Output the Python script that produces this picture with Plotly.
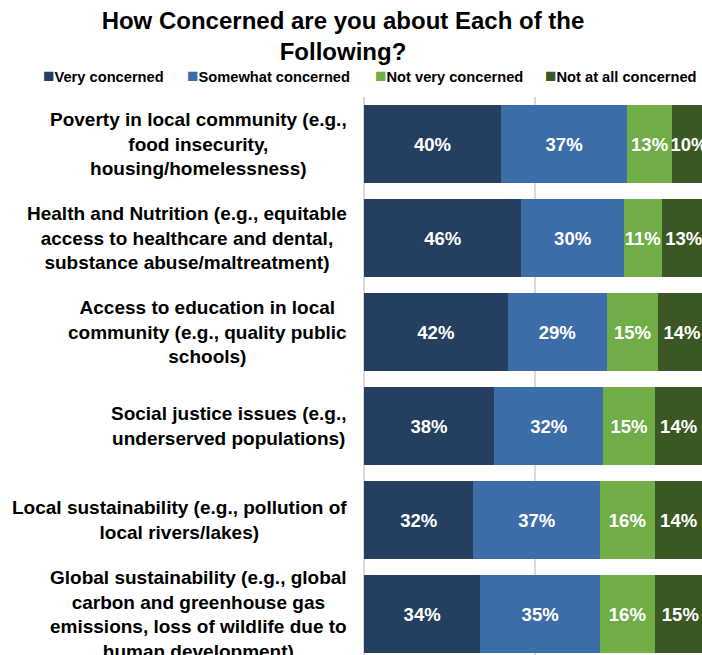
import plotly.graph_objects as go

# Survey items (line breaks as printed beside each bar)
categories = [
    "Poverty in local community (e.g.,<br>food insecurity,<br>housing/homelessness)",
    "Health and Nutrition (e.g., equitable<br>access to healthcare and dental,<br>substance abuse/maltreatment)",
    "Access to education in local<br>community (e.g., quality public<br>schools)",
    "Social justice issues (e.g.,<br>underserved populations)",
    "Local sustainability (e.g., pollution of<br>local rivers/lakes)",
    "Global sustainability (e.g., global<br>carbon and greenhouse gas<br>emissions, loss of wildlife due to<br>human development)",
]

# Share of respondents (%) per response level
very_concerned = [40, 46, 42, 38, 32, 34]
somewhat_concerned = [37, 30, 29, 32, 37, 35]
not_very_concerned = [13, 11, 15, 15, 16, 16]
not_at_all_concerned = [10, 13, 14, 14, 14, 15]

series_names = ["Very concerned", "Somewhat concerned", "Not very concerned", "Not at all concerned"]
series_values = [very_concerned, somewhat_concerned, not_very_concerned, not_at_all_concerned]
series_colors = ["#243F60", "#3D6DA8", "#70AD47", "#3A5724"]

FONT = "Liberation Sans, Arial, sans-serif"

W, H = 702, 655
M_L, M_R, M_T, M_B = 364, 0, 97, 0
plot_w = W - M_L - M_R
plot_h = H - M_T - M_B
px_per_pct = 3.42
slot_px = 94.0

fig = go.Figure()
for name, vals, color in zip(series_names, series_values, series_colors):
    fig.add_trace(go.Bar(
        y=categories,
        x=vals,
        name=name,
        orientation="h",
        marker=dict(color=color, line=dict(width=0)),
        text=[f"{v}%" for v in vals],
        textposition="inside",
        insidetextanchor="middle",
        constraintext="none",
        textangle=0,
        textfont=dict(family=FONT, size=18.5, color="white", weight="bold"),
        showlegend=False,
    ))

# Category labels: centred lines, right edge just left of the axis
annotations = []
for cat in categories:
    annotations.append(dict(
        x=0, xref="paper", y=cat, yref="y",
        text=cat, showarrow=False,
        xanchor="right", yanchor="middle", align="center",
        xshift=-15,
        font=dict(family=FONT, size=19, color="black", weight="bold"),
    ))

# Legend row drawn as text keys
legend_left_px = [41, 185, 373, 543]
legend_y_px = 75.5
for name, color, lx in zip(series_names, series_colors, legend_left_px):
    annotations.append(dict(
        x=(lx - M_L) / plot_w, xref="paper",
        y=1 + (M_T - legend_y_px) / plot_h, yref="paper",
        text=f'<span style="color:{color};font-size:19px">■</span>{name}',
        showarrow=False, xanchor="left", yanchor="middle",
        font=dict(family=FONT, size=14.67, color="black", weight="bold"),
    ))

fig.update_layout(
    width=W, height=H,
    margin=dict(l=M_L, r=M_R, t=M_T, b=M_B, pad=0),
    barmode="stack",
    bargap=16 / 94,
    plot_bgcolor="white",
    paper_bgcolor="white",
    showlegend=False,
    title=dict(
        text="How Concerned are you about Each of the<br>Following?",
        x=343 / W, xanchor="center",
        y=1 - 29 / H, yanchor="middle", yref="container",
        font=dict(family=FONT, size=24, color="black", weight="bold"),
    ),
    xaxis=dict(
        range=[0, plot_w / px_per_pct],
        showticklabels=False,
        showgrid=True, gridcolor="#D9D9D9", gridwidth=1.5,
        dtick=50, tick0=0,
        zeroline=True, zerolinecolor="#D9D9D9", zerolinewidth=2,
        showline=False, ticks="",
        fixedrange=True,
    ),
    yaxis=dict(
        categoryorder="array", categoryarray=categories,
        range=[-0.5 + plot_h / slot_px, -0.5],
        showticklabels=False, showgrid=False, zeroline=False,
        showline=False, ticks="",
        fixedrange=True,
    ),
    annotations=annotations,
)

fig.write_html("out.html")
